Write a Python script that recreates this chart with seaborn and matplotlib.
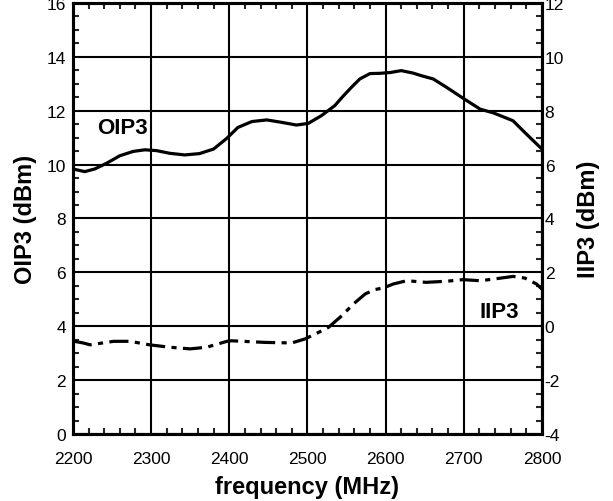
import matplotlib
matplotlib.use("Agg")
import matplotlib.pyplot as plt
import seaborn as sns
import pandas as pd
from matplotlib.ticker import MultipleLocator

# OIP3 curve (left axis, dBm)
oip3_freq = [2200, 2215, 2228, 2243, 2260, 2277, 2292, 2307, 2324, 2343, 2362, 2380, 2397,
             2411, 2429, 2448, 2467, 2486, 2501, 2518, 2535, 2545, 2556, 2567, 2580, 2593,
             2606, 2620, 2635, 2646, 2661, 2678, 2701, 2721, 2738, 2763, 2780, 2800]
oip3_val = [9.84, 9.74, 9.84, 10.05, 10.33, 10.49, 10.55, 10.52, 10.42, 10.36, 10.41, 10.58, 10.98,
            11.38, 11.60, 11.66, 11.57, 11.47, 11.53, 11.82, 12.19, 12.52, 12.86, 13.18, 13.38, 13.39,
            13.42, 13.49, 13.40, 13.30, 13.18, 12.87, 12.43, 12.06, 11.92, 11.63, 11.14, 10.58]

# IIP3 curve (right axis, dBm)
iip3_freq = [2200, 2213, 2222, 2252, 2273, 2298, 2324, 2350, 2371, 2397, 2403, 2446, 2480,
             2497, 2510, 2527, 2544, 2559, 2574, 2586, 2597, 2610, 2627, 2652, 2678, 2699,
             2721, 2738, 2763, 2778, 2793, 2800]
iip3_val = [-0.55, -0.62, -0.69, -0.56, -0.56, -0.69, -0.78, -0.84, -0.78, -0.56, -0.54, -0.60, -0.62,
            -0.47, -0.29, -0.04, 0.39, 0.83, 1.20, 1.36, 1.42, 1.57, 1.69, 1.63, 1.67, 1.73,
            1.69, 1.75, 1.85, 1.79, 1.57, 1.38]

x_ticks = [2200, 2300, 2400, 2500, 2600, 2700, 2800]
left_ticks = [0, 2, 4, 6, 8, 10, 12, 14, 16]
right_ticks = [-4, -2, 0, 2, 4, 6, 8, 10, 12]

sns.set_style("white")
plt.rcParams['font.family'] = ['Liberation Sans', 'DejaVu Sans']
plt.rcParams['axes.unicode_minus'] = False
plt.rcParams['text.color'] = 'black'
plt.rcParams['axes.labelcolor'] = 'black'

fig = plt.figure(figsize=(6.13, 5.02), dpi=100)
ax = fig.add_axes([0.119, 0.1335, 0.765, 0.8585])

df_o = pd.DataFrame({"f": oip3_freq, "v": oip3_val})
df_i = pd.DataFrame({"f": iip3_freq, "v": iip3_val})

sns.lineplot(data=df_o, x="f", y="v", ax=ax, color="black", lw=2.3,
             solid_joinstyle="round", solid_capstyle="round")
ax2 = ax.twinx()
sns.lineplot(data=df_i, x="f", y="v", ax=ax2, color="black", lw=2.3,
             linestyle=(0, (6.0, 2.0, 1.6, 2.0)), dash_joinstyle="round")

ax.set_xlim(2200, 2800)
ax.set_ylim(0, 16)
ax2.set_ylim(-4, 12)
ax.set_xticks(x_ticks)
ax.set_yticks(left_ticks)
ax2.set_yticks(right_ticks)
ax.xaxis.set_minor_locator(MultipleLocator(20))
ax.yaxis.set_minor_locator(MultipleLocator(0.5))
ax2.yaxis.set_minor_locator(MultipleLocator(0.5))

ax.grid(True, which="major", color="black", lw=1.5)
ax2.grid(False)

for a in (ax, ax2):
    for s in a.spines.values():
        s.set_linewidth(2.2)
        s.set_color("black")

ax.tick_params(axis="x", which="major", direction="in", length=0, labelsize=12.5,
               colors="black", pad=12)
ax.tick_params(axis="y", which="major", direction="in", length=0, labelsize=12.5,
               colors="black", pad=5)
ax.tick_params(axis="x", which="minor", direction="in", length=4, width=1.5, top=True, bottom=True)
ax.tick_params(axis="y", which="minor", direction="in", length=4, width=1.5, left=True)
ax2.tick_params(axis="y", which="major", direction="in", length=0, labelsize=12.5,
                colors="black", pad=2)
ax2.tick_params(axis="y", which="minor", direction="in", length=4, width=1.5, right=True)

ax.set_xlabel("frequency (MHz)", fontsize=17, fontweight="bold", labelpad=7)
ax.set_ylabel("OIP3 (dBm)", fontsize=17, fontweight="bold", labelpad=7)
ax2.set_ylabel("IIP3 (dBm)", fontsize=17, fontweight="bold", labelpad=9)

ax.text(2263, 11.36, "OIP3", fontsize=16, fontweight="bold", ha="center", va="center")
ax2.text(2745, 0.55, "IIP3", fontsize=16, fontweight="bold", ha="center", va="center")

fig.savefig("out.png", dpi=100)
